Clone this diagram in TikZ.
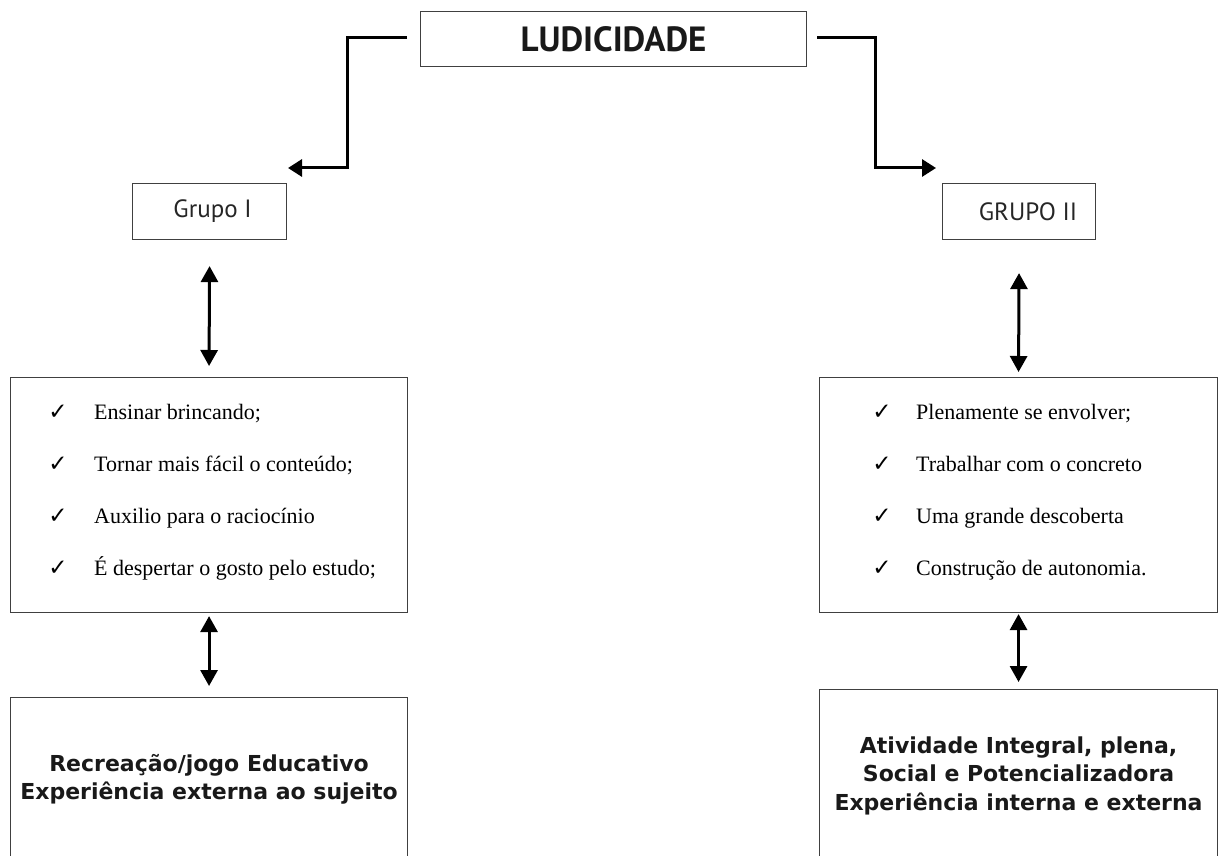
\documentclass[tikz,border=0pt]{standalone}
\usepackage{fontspec}
\setmainfont{Liberation Serif}
\newfontfamily\ptsans{PT Sans}
\newfontfamily\djv{DejaVu Sans}
\usetikzlibrary{arrows.meta}
\begin{document}
\begin{tikzpicture}[x=1pt,y=-1pt,
  box/.style={draw=black!75, line width=1.1pt, inner sep=0pt, anchor=north west},
  conn/.style={line width=3pt, -{Triangle[width=17pt,length=14pt]}},
  dbl/.style={line width=3pt, {Triangle[width=17pt,length=16pt]}-{Triangle[width=17pt,length=16pt]}},
  item/.style={anchor=base west, font=\fontsize{22}{26}\selectfont, inner sep=0pt},
  chk/.style={anchor=base, font=\djv\fontsize{23}{26}\selectfont, inner sep=0pt},
  big/.style={font=\djv\bfseries\fontsize{22}{28.5}\selectfont, align=center, text=black!90},
  grp/.style={font=\ptsans\fontsize{25}{28}\selectfont, text=black!85}
]
\useasboundingbox (0,0) rectangle (1221,856);
\clip (0,0) rectangle (1221,856);
% boxes
\node[box, minimum width=386pt, minimum height=55pt, font=\ptsans\bfseries\fontsize{35}{40}\selectfont, text=black!90] (lud) at (420,11) {LUDICIDADE};
\node[box, grp, minimum width=154pt, minimum height=56pt] (g1) at (132,183) {\hspace*{6pt}Grupo I};
\node[box, grp, minimum width=153pt, minimum height=56pt] (g2) at (942,183) {\hspace*{18pt}GRUPO II};
\node[box, minimum width=397pt, minimum height=235pt] (l1) at (10,377) {};
\node[box, minimum width=398pt, minimum height=235pt] (l2) at (819,377) {};
\node[box, big, minimum width=397pt, minimum height=164pt] (b1) at (10,697) {Recreação/jogo Educativo\\Experiência externa ao sujeito};
\node[box, big, minimum width=398pt, minimum height=172pt] (b2) at (819,689) {Atividade Integral, plena,\\Social e Potencializadora\\Experiência interna e externa};
% list items, left
\node[chk] (c11) at ([shift={(48,42)}]l1.north west) {✓};
\node[item] (t11) at ([shift={(84,42)}]l1.north west) {Ensinar brincando;};
\node[chk] (c12) at ([shift={(48,94)}]l1.north west) {✓};
\node[item] (t12) at ([shift={(84,94)}]l1.north west) {Tornar mais fácil o conteúdo;};
\node[chk] (c13) at ([shift={(48,146)}]l1.north west) {✓};
\node[item] (t13) at ([shift={(84,146)}]l1.north west) {Auxilio para o raciocínio};
\node[chk] (c14) at ([shift={(48,198)}]l1.north west) {✓};
\node[item] (t14) at ([shift={(84,198)}]l1.north west) {É despertar o gosto pelo estudo;};
% list items, right
\node[chk] (c21) at ([shift={(63,42)}]l2.north west) {✓};
\node[item] (t21) at ([shift={(97,42)}]l2.north west) {Plenamente se envolver;};
\node[chk] (c22) at ([shift={(63,94)}]l2.north west) {✓};
\node[item] (t22) at ([shift={(97,94)}]l2.north west) {Trabalhar com o concreto};
\node[chk] (c23) at ([shift={(63,146)}]l2.north west) {✓};
\node[item] (t23) at ([shift={(97,146)}]l2.north west) {Uma grande descoberta};
\node[chk] (c24) at ([shift={(63,198)}]l2.north west) {✓};
\node[item] (t24) at ([shift={(97,198)}]l2.north west) {Construção de autonomia.};
% connectors
\coordinate (lk) at (347,168);
\coordinate (lt) at (288,168);
\coordinate (rk) at (875,168);
\coordinate (rt) at (936,168);
\draw[conn] ([xshift=-13pt,yshift=2pt]lud.west) -| (lk) -- (lt);
\draw[conn] ([xshift=10pt,yshift=2pt]lud.east) -| (rk) -- (rt);
\draw[dbl] ([yshift=-26pt]g1.south) -- ([yshift=11pt]l1.north);
\draw[dbl] ([yshift=-3pt]l1.south) -- ([yshift=11pt]b1.north);
\draw[dbl] ([yshift=-33pt]g2.south) -- ([yshift=5pt]l2.north);
\draw[dbl] ([yshift=-1pt]l2.south) -- ([yshift=7pt]b2.north);
\end{tikzpicture}
\end{document}
